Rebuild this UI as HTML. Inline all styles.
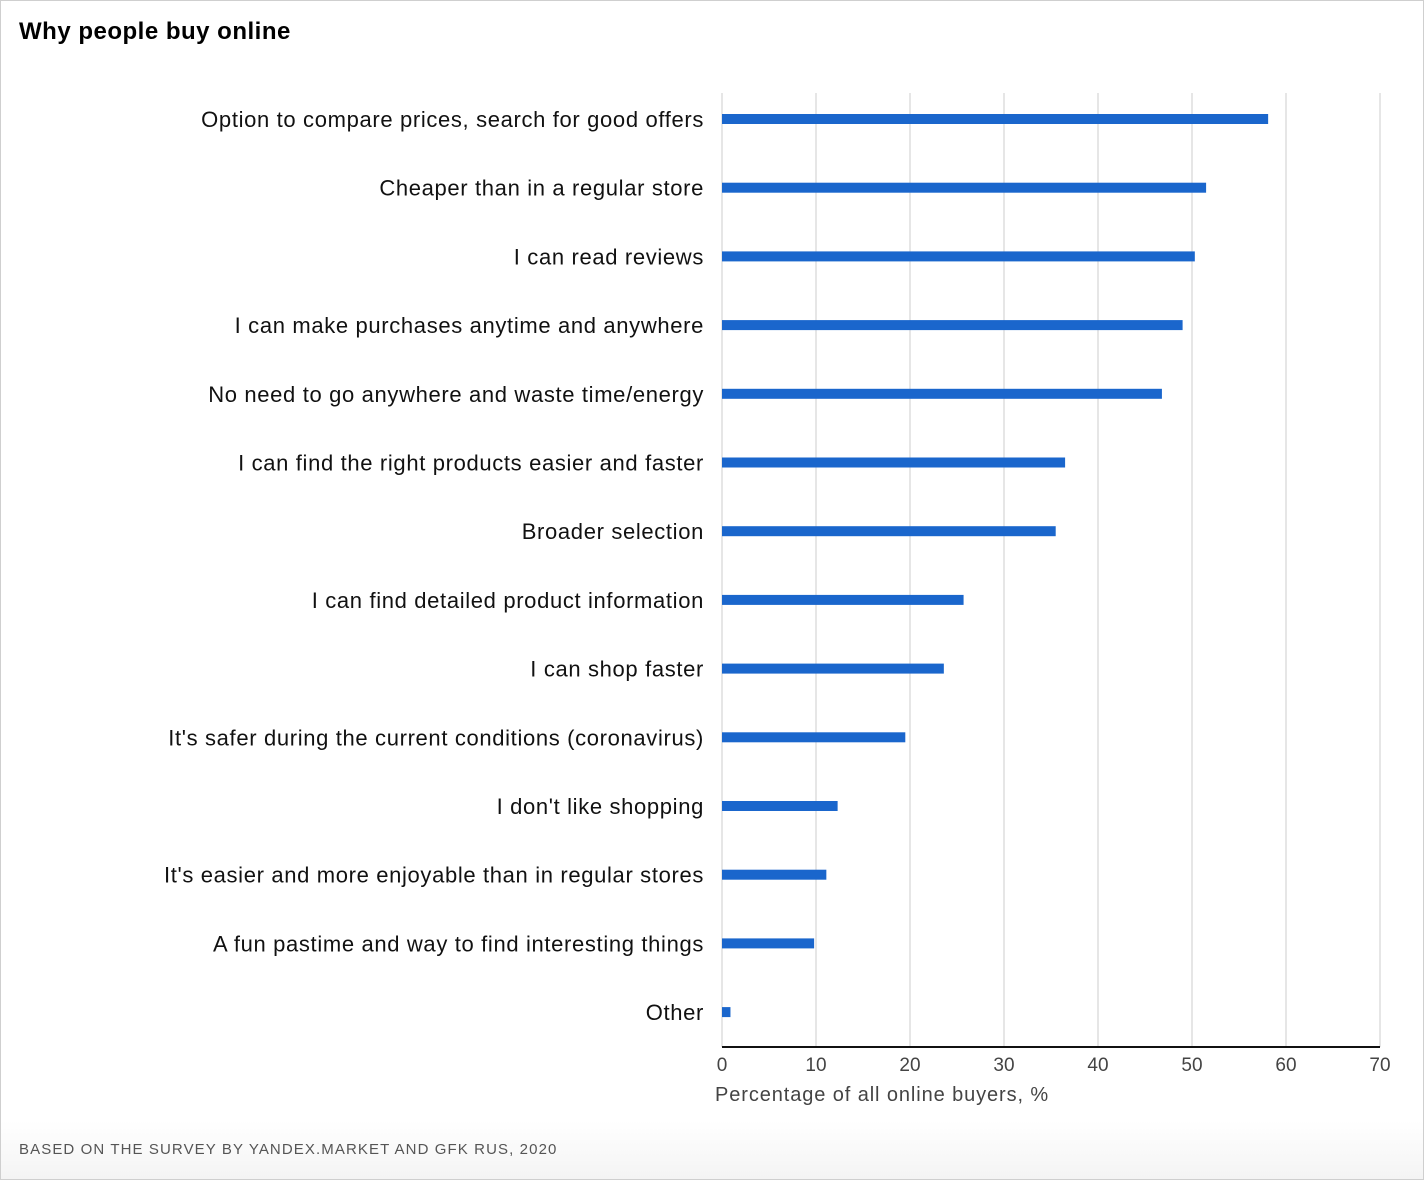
<!DOCTYPE html>
<html><head><meta charset="utf-8"><style>
html,body{margin:0;padding:0;background:#fff;}
#wrap{position:relative;width:1422px;height:1178px;border:1px solid #cfcfcf;background:linear-gradient(#fff 0,#fff 1120px,#f4f4f4 1178px);font-family:"Liberation Sans",sans-serif;}
#title{position:absolute;left:18px;top:17px;font-size:24px;font-weight:bold;color:#000;letter-spacing:0.5px;}
#src{position:absolute;left:18px;top:1140px;font-size:15px;color:#555;letter-spacing:1.1px;}
svg{position:absolute;left:0;top:0;}
</style></head><body>
<div id="wrap">
<div id="title">Why people buy online</div>
<svg id="chart" width="1424" height="1180"></svg>
<div id="src">BASED ON THE SURVEY BY YANDEX.MARKET AND GFK RUS, 2020</div>
</div>
<script>
const categories=["Option to compare prices, search for good offers","Cheaper than in a regular store","I can read reviews","I can make purchases anytime and anywhere","No need to go anywhere and waste time/energy","I can find the right products easier and faster","Broader selection","I can find detailed product information","I can shop faster","It's safer during the current conditions (coronavirus)","I don't like shopping","It's easier and more enjoyable than in regular stores","A fun pastime and way to find interesting things","Other"];
const values=[58.1,51.5,50.3,49.0,46.8,36.5,35.5,25.7,23.6,19.5,12.3,11.1,9.8,0.9];
const ticks=[0,10,20,30,40,50,60,70];
const NS="http://www.w3.org/2000/svg";
const svg=document.getElementById('chart');
const x0=721,x1=1379,yTop=92,yAxis=1046;
const x=v=>x0+(v-0)/70*(x1-x0);
const rowStep=68.7,row0=118;
const y=i=>row0+i*rowStep;
function mk(tag,attrs){const e=document.createElementNS(NS,tag);for(const k in attrs)e.setAttribute(k,attrs[k]);svg.appendChild(e);return e;}
ticks.forEach(t=>{
  const g=mk('line',{x1:x(t),x2:x(t),y1:yTop,y2:yAxis,stroke:'#e6e6e6','stroke-width':2});
  
  
  const l=mk('text',{x:x(t),y:yAxis+24,'text-anchor':'middle','font-size':19,fill:'#444','font-family':'Liberation Sans, sans-serif'});
  l.textContent=t;
  
  
});
categories.forEach((c,i)=>{
  const b=mk('rect',{x:x0,y:y(i)-5,width:x(values[i])-x0,height:10,fill:'#1a66cc'});
  
  
  const t=mk('text',{x:703,y:y(i)+8,'text-anchor':'end','font-size':22,'letter-spacing':0.65,fill:'#111','font-family':'Liberation Sans, sans-serif'});
  t.textContent=c;
  
  
});
const ax=mk('line',{x1:x0,x2:x1,y1:yAxis,y2:yAxis,stroke:'#111','stroke-width':2});


const at=mk('text',{x:714,y:1100,'font-size':20,'letter-spacing':0.9,fill:'#444','font-family':'Liberation Sans, sans-serif'});
at.textContent='Percentage of all online buyers, %';


</script>
</body></html>
